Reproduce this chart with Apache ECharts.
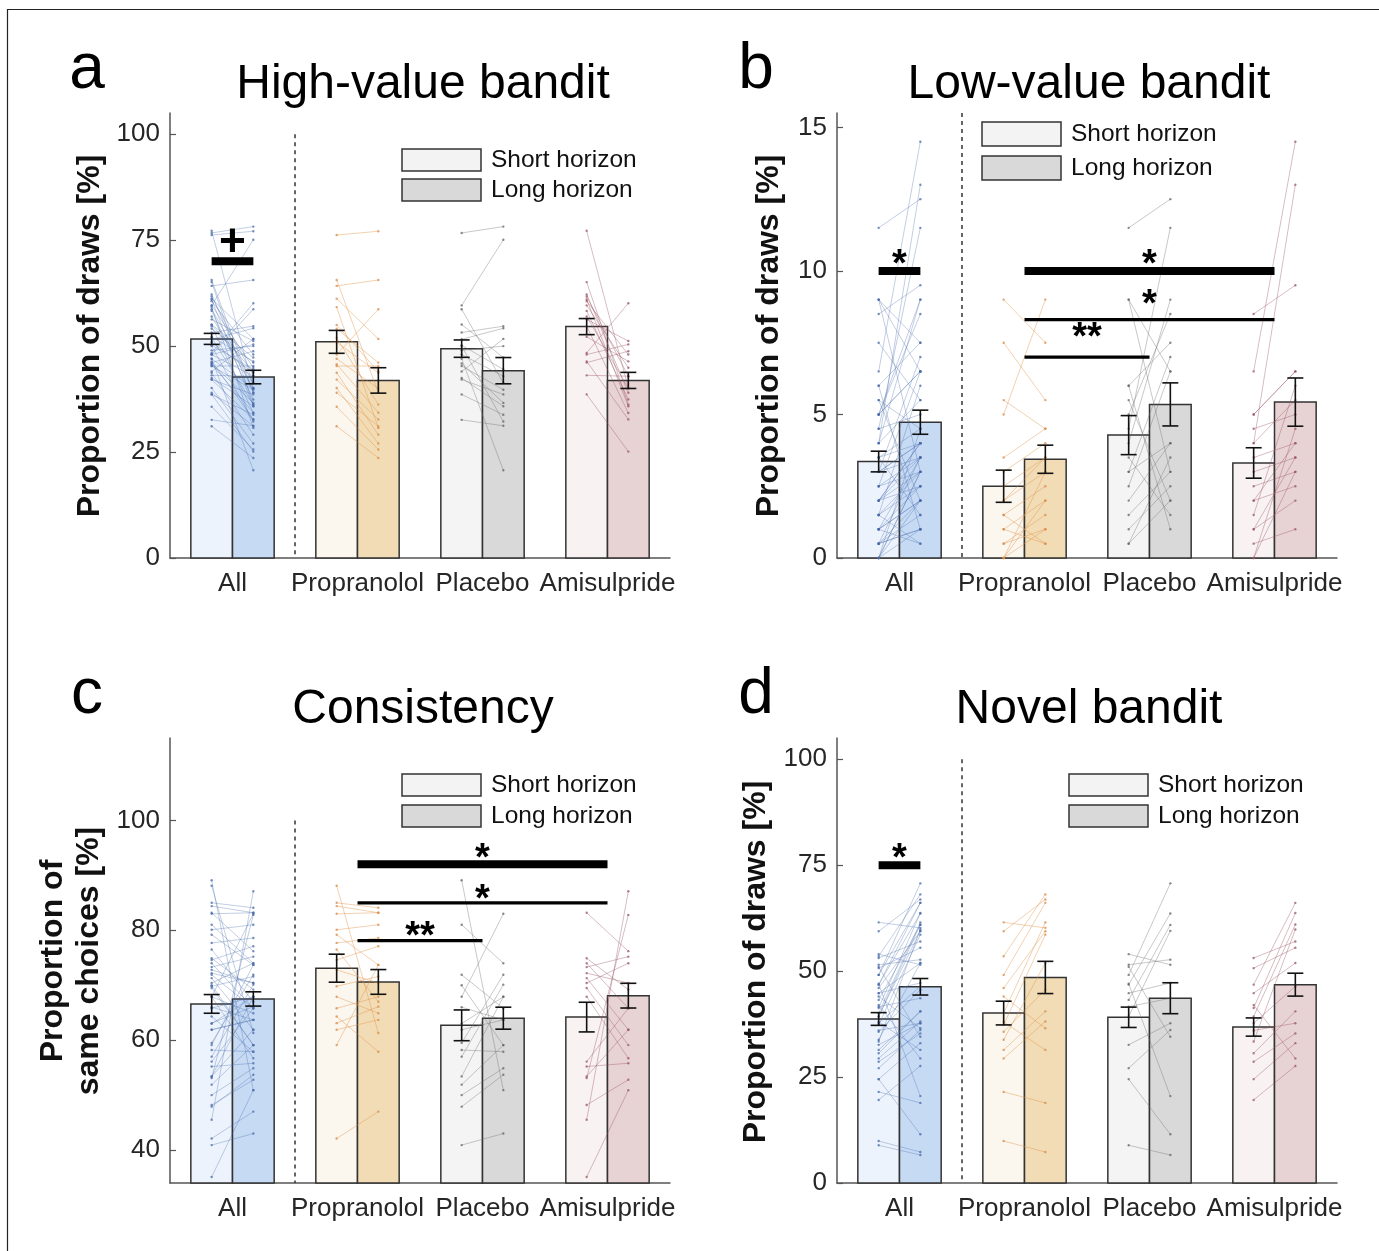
<!DOCTYPE html>
<html>
<head>
<meta charset="utf-8">
<title>Horizon task - drug groups</title>
<script src="https://cdn.jsdelivr.net/npm/echarts@6.0.0/dist/echarts.min.js"></script>
<style>
    html, body { margin: 0; padding: 0; background: #fff; }
    #chart_main { width: 1379px; height: 1251px; }
</style>
</head>
<body>
<div id="chart_main"></div>
<script>
var groups = ['All', 'Propranolol', 'Placebo', 'Amisulpride'];

// a: High-value bandit (group means, sem)
var aShortMean = [51.7, 51.0, 49.4, 54.6];
var aLongMean = [42.7, 41.9, 44.2, 41.9];
var aShortSem = [1.3, 2.7, 2.05, 1.9];
var aLongSem = [1.6, 3.0, 3.1, 1.9];
// a: participants (short -> long), per drug group
var aPropShort = [76.2, 65.6, 64.2, 61.2, 59.2, 54.1, 52.0, 50.9, 45.7, 45.3, 43.7, 42.1, 40.1, 39.0, 35.7, 31.1, 48.0, 55.0, 47.0];
var aPropLong = [77.1, 39.0, 65.6, 51.7, 30.7, 46.1, 36.2, 43.7, 34.3, 45.3, 29.1, 32.7, 27.0, 31.1, 25.6, 23.6, 58.7, 44.0, 40.0];
var aPlacShort = [76.7, 59.6, 58.7, 55.1, 53.2, 51.6, 50.2, 48.0, 45.9, 45.3, 42.5, 42.1, 38.6, 32.6, 47.0, 50.0, 44.0, 49.0];
var aPlacLong = [78.2, 75.1, 41.3, 47.3, 54.7, 54.2, 44.5, 42.9, 36.6, 39.7, 35.8, 38.6, 33.8, 31.2, 20.7, 32.2, 51.7, 50.0];
var aAmiShort = [77.2, 65.1, 62.2, 61.7, 61.0, 60.6, 59.6, 58.3, 56.3, 54.7, 52.2, 48.4, 48.0, 46.4, 46.1, 43.1, 38.6, 57.0];
var aAmiLong = [40.1, 36.2, 39.0, 42.9, 35.8, 48.0, 44.9, 37.4, 51.2, 34.2, 46.4, 60.1, 50.4, 32.7, 48.8, 42.9, 25.1, 40.0];

// b: Low-value bandit
var bShortMean = [3.36, 2.50, 4.28, 3.31];
var bLongMean = [4.73, 3.44, 5.35, 5.43];
var bShortSem = [0.36, 0.56, 0.68, 0.53];
var bLongSem = [0.42, 0.49, 0.75, 0.84];
var bPropShort = [9.0, 5.0, 7.5, 5.5, 3.5, 0.0, 2.5, 2.0, 1.5, 1.0, 0.5, 0.5, 1.0, 1.5, 0.0, 0.0, 3.0, 2.0];
var bPropLong = [7.5, 9.0, 5.5, 4.5, 4.5, 3.0, 3.5, 3.0, 2.5, 2.0, 1.0, 1.5, 0.5, 0.5, 1.0, 2.0, 4.0, 3.5];
var bPlacShort = [11.5, 9.0, 4.5, 6.0, 5.0, 4.0, 3.0, 2.0, 1.5, 1.0, 0.5, 3.5, 6.0, 0.5, 2.5, 9.0, 5.5, 3.0];
var bPlacLong = [12.5, 6.5, 11.5, 7.5, 8.5, 9.0, 7.0, 4.0, 3.0, 2.5, 2.0, 1.5, 1.0, 3.5, 6.5, 3.0, 2.0, 4.0];
var bAmiShort = [6.5, 4.0, 8.5, 5.0, 4.5, 3.5, 3.0, 2.5, 2.0, 1.5, 1.0, 0.5, 0.0, 5.0, 2.0, 1.0, 4.0, 0.0];
var bAmiLong = [14.5, 13.0, 9.5, 6.5, 5.0, 4.0, 3.5, 3.0, 2.5, 6.0, 3.5, 1.0, 4.5, 6.5, 4.0, 2.0, 5.5, 3.0];

// c: Consistency
var cShortMean = [66.6, 73.1, 62.7, 64.2];
var cLongMean = [67.5, 70.6, 64.0, 68.1];
var cShortSem = [1.7, 2.55, 2.8, 2.7];
var cLongSem = [1.3, 2.25, 2.0, 2.25];
var cPropShort = [88.1, 85.0, 84.4, 80.1, 79.2, 77.7, 76.5, 74.6, 72.8, 69.8, 67.9, 65.8, 64.3, 63.1, 61.9, 59.1, 42.1, 83.0];
var cPropLong = [61.3, 84.1, 83.2, 81.0, 73.7, 78.6, 67.0, 77.1, 70.4, 71.6, 64.9, 67.9, 57.9, 66.1, 63.7, 73.7, 47.0, 83.2];
var cPlacShort = [89.1, 81.0, 71.9, 67.9, 61.9, 59.5, 58.2, 57.0, 53.4, 51.9, 50.0, 47.9, 40.9, 66.0, 63.0, 70.0];
var cPlacLong = [50.9, 74.0, 65.8, 83.0, 63.7, 71.9, 57.9, 70.1, 67.9, 59.1, 54.9, 53.7, 43.0, 63.7, 67.9, 59.1];
var cAmiShort = [83.2, 74.9, 74.0, 73.3, 72.2, 71.3, 70.4, 69.5, 67.9, 56.1, 55.2, 53.4, 53.1, 48.2, 45.5, 35.1];
var cAmiLong = [76.2, 69.2, 65.8, 75.2, 70.4, 61.9, 74.0, 59.1, 56.7, 65.8, 55.8, 61.9, 82.8, 52.8, 87.1, 50.9];

// d: Novel bandit
var dShortMean = [38.7, 40.1, 39.1, 36.8];
var dLongMean = [46.3, 48.5, 43.6, 46.8];
var dShortSem = [1.5, 2.8, 2.4, 2.15];
var dLongSem = [1.95, 3.8, 3.65, 2.7];
var dPropShort = [61.5, 59.4, 53.5, 49.1, 46.0, 40.1, 37.3, 35.7, 33.8, 31.4, 29.4, 21.5, 9.9, 44.0, 38.0];
var dPropLong = [60.2, 66.9, 68.1, 66.1, 59.4, 61.5, 58.6, 45.6, 51.9, 40.5, 38.1, 18.9, 7.3, 36.5, 31.4];
var dPlacShort = [54.0, 51.5, 49.1, 46.8, 44.8, 43.2, 41.6, 39.3, 32.6, 27.1, 24.5, 8.9, 51.0, 47.0];
var dPlacLong = [51.5, 52.7, 70.7, 63.6, 47.2, 60.9, 43.6, 59.5, 37.7, 36.1, 11.5, 6.6, 34.5, 20.5];
var dAmiShort = [53.1, 50.7, 46.8, 44.8, 41.3, 39.3, 37.7, 33.4, 30.6, 28.6, 24.5, 19.6, 36.0, 42.0];
var dAmiLong = [57.0, 55.5, 66.1, 51.9, 63.7, 61.0, 46.4, 59.8, 40.5, 35.3, 33.0, 27.6, 37.7, 29.4];

// significance bars: [from, to, level, label level, heavy]
var aSig = [[0.833, 1.167, 70, 74.3, 1]];
var aSigText = ['+'];
var bSig = [[0.833, 1.167, 10, 10.5, 1], [2, 4, 10, 10.5, 1], [2, 4, 8.3, 9.1, 0], [2, 3, 7.0, 7.96, 0]];
var bSigText = ['*', '*', '*', '**'];
var cSig = [[2, 4, 92, 94.4, 1], [2, 4, 85, 87.1, 0], [2, 3, 78.1, 80.2, 0]];
var cSigText = ['*', '*', '**'];
var dSig = [[0.833, 1.167, 75, 78.5, 1]];
var dSigText = ['*'];

var font = "'Liberation Sans', Arial, Helvetica, sans-serif";
var barFill = [['#edf3fc', '#c6daf4'], ['#fbf6ee', '#f2dcb6'], ['#f4f4f4', '#d9d9d9'], ['#f8f2f2', '#e8d3d4']];
var lineCol = ['rgba(70,105,170,0.33)', 'rgba(225,145,70,0.42)', 'rgba(110,110,110,0.38)', 'rgba(150,80,95,0.38)'];
var dotCol = ['#4a6aa8', '#d98a45', '#666666', '#9a5566'];

var panels = [
    {left: 170, top: 113, yMin: 0, yMax: 105, ticks: [0, 25, 50, 75, 100], dashTop: 100,
        sm: aShortMean, lm: aLongMean, ss: aShortSem, ls: aLongSem,
        subj: [[aPropShort, aPropLong], [aPlacShort, aPlacLong], [aAmiShort, aAmiLong]],
        sig: aSig, sigText: aSigText},
    {left: 837, top: 113, yMin: 0, yMax: 15.5, ticks: [0, 5, 10, 15], dashTop: 15.5,
        sm: bShortMean, lm: bLongMean, ss: bShortSem, ls: bLongSem,
        subj: [[bPropShort, bPropLong], [bPlacShort, bPlacLong], [bAmiShort, bAmiLong]],
        sig: bSig, sigText: bSigText},
    {left: 170, top: 738, yMin: 34, yMax: 115, ticks: [40, 60, 80, 100], dashTop: 100,
        sm: cShortMean, lm: cLongMean, ss: cShortSem, ls: cLongSem,
        subj: [[cPropShort, cPropLong], [cPlacShort, cPlacLong], [cAmiShort, cAmiLong]],
        sig: cSig, sigText: cSigText},
    {left: 837, top: 738, yMin: 0, yMax: 105, ticks: [0, 25, 50, 75, 100], dashTop: 100,
        sm: dShortMean, lm: dLongMean, ss: dShortSem, ls: dLongSem,
        subj: [[dPropShort, dPropLong], [dPlacShort, dPlacLong], [dAmiShort, dAmiLong]],
        sig: dSig, sigText: dSigText}
];

var grids = [], xAxes = [], yAxes = [], series = [];

panels.forEach(function (p, i) {
    grids.push({left: p.left, top: p.top, width: 500, height: 445});
    xAxes.push({
        gridIndex: i, type: 'value', min: 0.5, max: 4.5,
        axisLine: {show: true, onZero: false, lineStyle: {color: '#555', width: 1.5}},
        axisTick: {show: false},
        splitLine: {show: false},
        axisLabel: {
            customValues: [1, 2, 3, 4],
            formatter: function (v) { return groups[Math.round(v) - 1]; },
            fontSize: 26, color: '#262626', margin: 13, fontFamily: font
        }
    });
    yAxes.push({
        gridIndex: i, type: 'value', min: p.yMin, max: p.yMax,
        axisLine: {show: true, onZero: false, lineStyle: {color: '#555', width: 1.5}},
        axisTick: {show: true, inside: true, length: 6, customValues: p.ticks, lineStyle: {color: '#555', width: 1.2}},
        splitLine: {show: false},
        axisLabel: {customValues: p.ticks, fontSize: 26, color: '#262626', margin: 10, fontFamily: font}
    });

    // bars
    var bars = [];
    for (var g = 0; g < 4; g++) {
        bars.push([g + 1, p.sm[g], 0, g]);
        bars.push([g + 1, p.lm[g], 1, g]);
    }
    series.push({
        type: 'custom', xAxisIndex: i, yAxisIndex: i, z: 1, silent: true, data: bars,
        renderItem: function (params, api) {
            var x = api.value(0), v = api.value(1), h = api.value(2), g = api.value(3);
            var p0 = api.coord([h ? x : x - 1 / 3, v]);
            var p1 = api.coord([h ? x + 1 / 3 : x, p.yMin]);
            return {type: 'rect', shape: {x: p0[0], y: p0[1], width: p1[0] - p0[0], height: p1[1] - p0[1]},
                style: {fill: barFill[g][h], stroke: '#333', lineWidth: 1.5}};
        }
    });

    // individual participants; 'All' pools the three drug groups
    var subj = [];
    p.subj.forEach(function (pair, k) {
        pair[0].forEach(function (s, j) {
            subj.push([1, s, pair[1][j], 0]);
            subj.push([k + 2, s, pair[1][j], k + 1]);
        });
    });
    series.push({
        type: 'custom', xAxisIndex: i, yAxisIndex: i, z: 2, silent: true, data: subj,
        renderItem: function (params, api) {
            var x = api.value(0), g = api.value(3);
            var a = api.coord([x - 1 / 6, api.value(1)]);
            var b = api.coord([x + 1 / 6, api.value(2)]);
            return {type: 'group', children: [
                {type: 'line', shape: {x1: a[0], y1: a[1], x2: b[0], y2: b[1]}, style: {stroke: lineCol[g], lineWidth: 1}},
                {type: 'circle', shape: {cx: a[0], cy: a[1], r: 1.2}, style: {fill: dotCol[g], opacity: 0.75}},
                {type: 'circle', shape: {cx: b[0], cy: b[1], r: 1.2}, style: {fill: dotCol[g], opacity: 0.75}}
            ]};
        }
    });

    // error bars
    var errs = [];
    for (var e = 0; e < 4; e++) {
        errs.push([e + 1 - 1 / 6, p.sm[e], p.ss[e]]);
        errs.push([e + 1 + 1 / 6, p.lm[e], p.ls[e]]);
    }
    series.push({
        type: 'custom', xAxisIndex: i, yAxisIndex: i, z: 3, silent: true, data: errs,
        renderItem: function (params, api) {
            var x = api.value(0), m = api.value(1), s = api.value(2);
            var hi = api.coord([x, m + s]), lo = api.coord([x, m - s]);
            var st = {stroke: '#111', lineWidth: 1.6};
            return {type: 'group', children: [
                {type: 'line', shape: {x1: hi[0], y1: hi[1], x2: lo[0], y2: lo[1]}, style: st},
                {type: 'line', shape: {x1: hi[0] - 8, y1: hi[1], x2: hi[0] + 8, y2: hi[1]}, style: st},
                {type: 'line', shape: {x1: lo[0] - 8, y1: lo[1], x2: lo[0] + 8, y2: lo[1]}, style: st}
            ]};
        }
    });

    // dashed separator between All and drug groups
    series.push({
        type: 'custom', xAxisIndex: i, yAxisIndex: i, z: 2, silent: true, data: [[1.5, p.dashTop]],
        renderItem: function (params, api) {
            var t = api.coord([api.value(0), api.value(1)]);
            var b = api.coord([api.value(0), p.yMin]);
            return {type: 'line', shape: {x1: t[0], y1: t[1], x2: b[0], y2: b[1]},
                style: {stroke: '#333', lineWidth: 1.5, lineDash: [4, 4]}};
        }
    });

    // significance bars
    series.push({
        type: 'custom', xAxisIndex: i, yAxisIndex: i, z: 4, silent: true, data: p.sig,
        renderItem: function (params, api) {
            var a = api.coord([api.value(0), api.value(2)]);
            var b = api.coord([api.value(1), api.value(2)]);
            var heavy = api.value(4);
            var txt = p.sigText[params.dataIndex];
            var lab = api.coord([(api.value(0) + api.value(1)) / 2, api.value(3)]);
            var fs = txt === '+' ? 46 : 38;
            var dy = txt === '+' ? 0 : 0.23 * fs;
            return {type: 'group', children: [
                {type: 'line', shape: {x1: a[0], y1: a[1], x2: b[0], y2: b[1]},
                    style: {stroke: '#000', lineWidth: heavy ? 8 : 3.2, lineCap: 'butt'}},
                {type: 'text', x: lab[0], y: lab[1] + dy,
                    style: {text: txt, fontSize: fs, fontWeight: 'bold', fontFamily: font, fill: '#000',
                        align: 'center', verticalAlign: 'middle'}}
            ]};
        }
    });
});

// titles, panel letters, axis names, legends, frame
var titles = ['High-value bandit', 'Low-value bandit', 'Consistency', 'Novel bandit'];
var letters = ['a', 'b', 'c', 'd'];
var graphic = [
    {type: 'line', shape: {x1: 7, y1: 9.5, x2: 1379, y2: 9.5}, style: {stroke: '#222', lineWidth: 1.2}},
    {type: 'line', shape: {x1: 7.5, y1: 9, x2: 7.5, y2: 1251}, style: {stroke: '#222', lineWidth: 1.2}}
];
var letterPos = [[87, 70.5], [756, 70.5], [87, 695.5], [756, 695.5]];
var titlePos = [[423, 84.4], [1089, 84.4], [423, 709.4], [1089, 709.4]];
var legendPos = [[402, 149, 22, 30], [982, 122, 24, 34], [402, 774, 22, 31], [1069, 774, 22, 31]];
for (var k = 0; k < 4; k++) {
    graphic.push({type: 'text', x: letterPos[k][0], y: letterPos[k][1],
        style: {text: letters[k], fontSize: 64, fontFamily: font, fill: '#000', align: 'center', verticalAlign: 'middle'}});
    graphic.push({type: 'text', x: titlePos[k][0], y: titlePos[k][1],
        style: {text: titles[k], fontSize: 48, fontFamily: font, fill: '#000', align: 'center', verticalAlign: 'middle'}});
    var L = legendPos[k];
    ['Short horizon', 'Long horizon'].forEach(function (name, j) {
        var y = L[1] + j * L[3];
        graphic.push({type: 'rect', shape: {x: L[0], y: y, width: 79, height: L[2]},
            style: {fill: j ? '#d9d9d9' : '#f3f3f3', stroke: '#333', lineWidth: 1.5}});
        graphic.push({type: 'text', x: L[0] + 89, y: y + L[2] / 2,
            style: {text: name, fontSize: 24.5, fontFamily: font, fill: '#111', align: 'left', verticalAlign: 'middle'}});
    });
}
var yNames = [
    [90, 336, 'Proportion of draws [%]'],
    [769, 336, 'Proportion of draws [%]'],
    [53, 961, 'Proportion of'],
    [89, 961, 'same choices [%]'],
    [756, 962, 'Proportion of draws [%]']
];
yNames.forEach(function (n) {
    graphic.push({type: 'text', x: n[0], y: n[1], rotation: Math.PI / 2,
        style: {text: n[2], fontSize: 32, fontWeight: 'bold', fontFamily: font, fill: '#111',
            align: 'center', verticalAlign: 'middle'}});
});

var myChart = echarts.init(document.getElementById('chart_main'), null, {renderer: 'canvas'});
myChart.setOption({
    backgroundColor: '#fff',
    animation: false,
    grid: grids,
    xAxis: xAxes,
    yAxis: yAxes,
    series: series,
    graphic: graphic
});
</script>
</body>
</html>
